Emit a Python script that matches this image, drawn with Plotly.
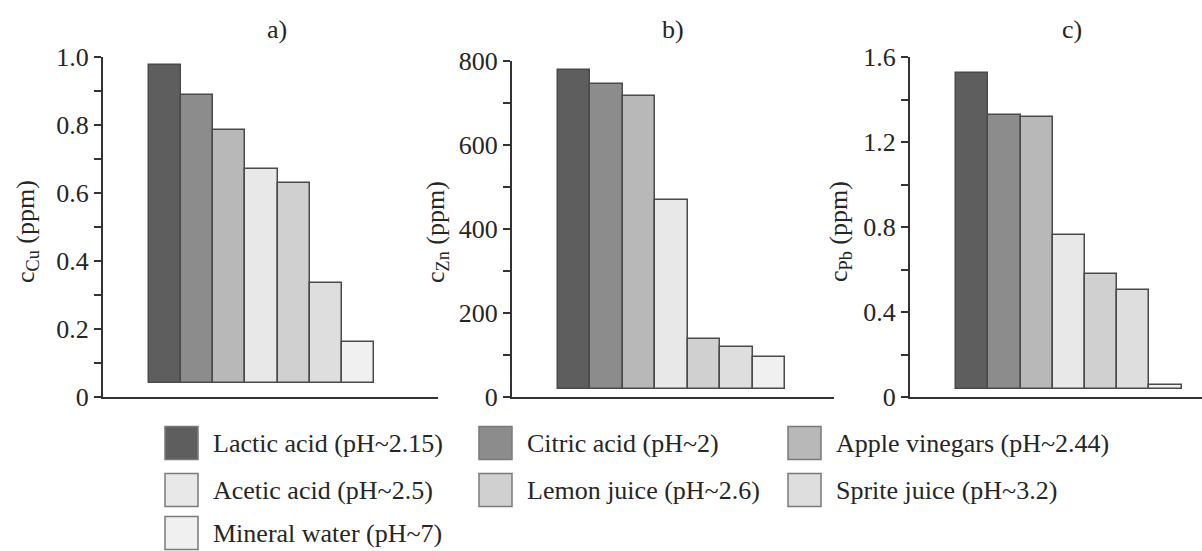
import plotly.graph_objects as go

# ---------------- data ----------------
CATEGORIES = [
    "Lactic acid (pH~2.15)",
    "Citric acid (pH~2)",
    "Apple vinegars (pH~2.44)",
    "Acetic acid (pH~2.5)",
    "Lemon juice (pH~2.6)",
    "Sprite juice (pH~3.2)",
    "Mineral water (pH~7)",
]
CU_PPM = [0.976, 0.888, 0.786, 0.671, 0.629, 0.334, 0.162]
ZN_PPM = [778, 746, 717, 469, 139, 118, 95]
PB_PPM = [1.523, 1.327, 1.319, 0.762, 0.579, 0.504, 0.056]

CU_TICKS = [0, 0.2, 0.4, 0.6, 0.8, 1.0]
CU_TICKTEXT = ["0", "0.2", "0.4", "0.6", "0.8", "1.0"]
ZN_TICKS = [0, 200, 400, 600, 800]
ZN_TICKTEXT = ["0", "200", "400", "600", "800"]
PB_TICKS = [0, 0.4, 0.8, 1.2, 1.6]
PB_TICKTEXT = ["0", "0.4", "0.8", "1.2", "1.6"]

COLORS = ["#5e5e5e", "#8c8c8c", "#b8b8b8", "#e8e8e8", "#d0d0d0", "#dedede", "#f0f0f0"]

# ---------------- layout helpers ----------------
W, H = 1202, 551
FONT = "Liberation Serif"
TXT = "#262626"


def px(x):
    return x / W


def py(y):
    return 1 - y / H


panels = [
    dict(vals=CU_PPM, base=0.04, yr=[0, 1.0], ticks=CU_TICKS, tt=CU_TICKTEXT, minor=0.1,
         xdom=[103, 438], ytop=57, xr=[-1.93, 8.49], title="a)", tx=277,
         ytitle="c<sub>Cu</sub> (ppm)", ytx=27),
    dict(vals=ZN_PPM, base=20, yr=[0, 800], ticks=ZN_TICKS, tt=ZN_TICKTEXT, minor=100,
         xdom=[512, 834], ytop=61, xr=[-1.92, 8.01], title="b)", tx=673,
         ytitle="c<sub>Zn</sub> (ppm)", ytx=437),
    dict(vals=PB_PPM, base=0.04, yr=[0, 1.6], ticks=PB_TICKS, tt=PB_TICKTEXT, minor=0.2,
         xdom=[910, 1202], ytop=57, xr=[-1.93, 7.13], title="c)", tx=1072,
         ytitle="c<sub>Pb</sub> (ppm)", ytx=840),
]

fig = go.Figure()
annotations = []
shapes = []
Y_BOTTOM = 397

for i, p in enumerate(panels, start=1):
    sfx = "" if i == 1 else str(i)
    fig.add_trace(go.Bar(
        x=CATEGORIES,
        y=[v - p["base"] for v in p["vals"]],
        base=p["base"],
        width=1,
        marker=dict(color=COLORS, line=dict(color="#4a4a4a", width=1.5)),
        xaxis="x" + sfx, yaxis="y" + sfx,
        showlegend=False, hoverinfo="skip",
    ))
    lo, hi = p["yr"]
    minor_vals = []
    k = 1
    while p["minor"] * k < hi:
        v = round(p["minor"] * k, 6)
        if all(abs(v - t) > 1e-9 for t in p["ticks"]):
            minor_vals.append(v)
        k += 1
    fig.update_layout({
        "xaxis" + sfx: dict(
            domain=[px(p["xdom"][0]), px(p["xdom"][1])],
            anchor="y" + sfx, range=p["xr"], type="category",
            categoryorder="array", categoryarray=CATEGORIES,
            showticklabels=False, ticks="", showgrid=False, zeroline=False,
            showline=True, linecolor="#333333", linewidth=2,
            fixedrange=True, automargin=False,
        ),
        "yaxis" + sfx: dict(
            domain=[py(Y_BOTTOM), py(p["ytop"])],
            anchor="x" + sfx, range=p["yr"],
            tickmode="array", tickvals=p["ticks"], ticktext=p["tt"],
            ticks="outside", ticklen=7, tickwidth=1.5, tickcolor="#333333",
            minor=dict(ticks="outside", ticklen=7, tickwidth=1.5, tickcolor="#333333",
                       tickvals=minor_vals, showgrid=False),
            showgrid=False, zeroline=False,
            showline=True, linecolor="#333333", linewidth=2,
            tickfont=dict(family=FONT, size=26, color=TXT),
            fixedrange=True, automargin=False,
        ),
    })
    annotations.append(dict(
        text=p["title"], x=px(p["tx"]), y=py(30), xref="paper", yref="paper",
        xanchor="center", yanchor="middle", showarrow=False,
        font=dict(family=FONT, size=26, color=TXT),
    ))
    annotations.append(dict(
        text=p["ytitle"], x=px(p["ytx"]), y=py(232), xref="paper", yref="paper",
        xanchor="center", yanchor="middle", showarrow=False, textangle=-90,
        font=dict(family=FONT, size=26, color=TXT),
    ))

# ---------------- legend (custom, 3 columns) ----------------
COL_X = [165, 479, 788]
ROW_Y = [443, 490, 533]
SW = 33
for idx, (name, col) in enumerate(zip(CATEGORIES, COLORS)):
    r, c = divmod(idx, 3)
    x0 = COL_X[c]
    yc = ROW_Y[r]
    shapes.append(dict(
        type="rect", xref="paper", yref="paper",
        x0=px(x0), x1=px(x0 + SW), y0=py(yc + SW / 2), y1=py(yc - SW / 2),
        fillcolor=col, line=dict(color="#7a7a7a", width=1.5), layer="above",
    ))
    annotations.append(dict(
        text=name, x=px(x0 + 46), y=py(yc), xref="paper", yref="paper",
        xanchor="left", yanchor="middle", showarrow=False,
        font=dict(family=FONT, size=26, color=TXT),
    ))

fig.update_layout(
    width=W, height=H,
    margin=dict(l=0, r=0, t=0, b=0, autoexpand=False),
    paper_bgcolor="white", plot_bgcolor="white",
    bargap=0,
    showlegend=False,
    annotations=annotations,
    shapes=shapes,
)

fig.write_html("out.html", config={"displayModeBar": False})
